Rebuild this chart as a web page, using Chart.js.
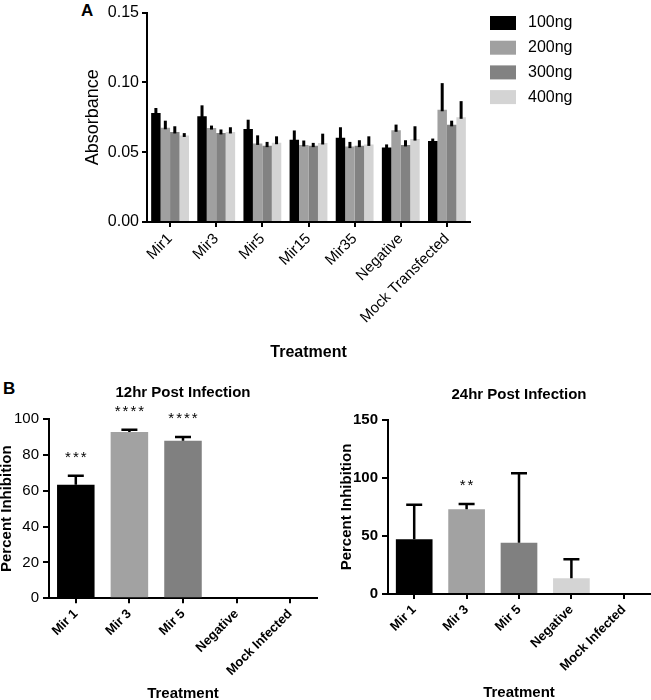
<!DOCTYPE html>
<html>
<head>
<meta charset="utf-8">
<script src="https://cdn.jsdelivr.net/npm/chart.js@4.4.1/dist/chart.umd.min.js"></script>
<style>
  body { margin: 0; background: #fff; }
  #fig { position: relative; width: 651px; height: 700px; font-family: "Liberation Sans", Arial, sans-serif; }
  canvas { position: absolute; }
  .panel { position: absolute; font-weight: bold; font-size: 17px; color: #000; }
</style>
</head>
<body>
<div id="fig">
  <div class="panel" style="left:81px;top:1px">A</div>
  <canvas id="chartA" width="651" height="366" style="left:0;top:0"></canvas>
  <div class="panel" style="left:3px;top:379px">B</div>
  <canvas id="chart12" width="330" height="330" style="left:0;top:370px"></canvas>
  <canvas id="chart24" width="321" height="330" style="left:330px;top:370px"></canvas>
</div>
<script>
// panel A - absorbance by dose
const treatmentsA = ["Mir1", "Mir3", "Mir5", "Mir15", "Mir35", "Negative", "Mock Transfected"];
const doseLabels = ["100ng", "200ng", "300ng", "400ng"];
const doseColors = ["#000000", "#a0a0a0", "#828282", "#d4d4d4"];
const abs100 = [0.0780, 0.0757, 0.0666, 0.0589, 0.0603, 0.0533, 0.0580];
const abs200 = [0.0675, 0.0673, 0.0563, 0.0552, 0.0540, 0.0657, 0.0804];
const abs300 = [0.0645, 0.0638, 0.0547, 0.0547, 0.0547, 0.0552, 0.0696];
const abs400 = [0.0620, 0.0645, 0.0568, 0.0566, 0.0556, 0.0594, 0.0750];
const sem100 = [0.0026, 0.0068, 0.0056, 0.0056, 0.0065, 0.0012, 0.0007];
const sem200 = [0.0040, 0.0007, 0.0047, 0.0021, 0.0023, 0.0030, 0.0180];
const sem300 = [0.0030, 0.0014, 0.0016, 0.0009, 0.0028, 0.0023, 0.0019];
const sem400 = [0.0006, 0.0023, 0.0035, 0.0056, 0.0047, 0.0081, 0.0105];
const absTicks = [0, 0.05, 0.10, 0.15];

// panel B - percent inhibition
const treatmentsB = ["Mir 1", "Mir 3", "Mir 5", "Negative", "Mock Infected"];
const colorsB = ["#000000", "#a2a2a2", "#808080", "#d4d4d4", "#ffffff"];
const inhib12 = [63.3, 92.7, 87.9, 0, 0];
const sem12 = [5.0, 1.3, 2.1, 0, 0];
const stars12 = ["***", "****", "****", "", ""];
const ticks12 = [0, 20, 40, 60, 80, 100];
const inhib24 = [47.2, 73.0, 44.2, 13.5, 0];
const sem24 = [29.8, 4.6, 59.8, 16.4, 0];
const stars24 = ["", "**", "", "", ""];
const ticks24 = [0, 50, 100, 150];

Chart.defaults.font.family = "'Liberation Sans', Arial, sans-serif";
Chart.defaults.color = "#000";
Chart.defaults.animation = false;

// one-sided error bars (+ optional caps and significance stars)
const errorBars = {
  id: "errorBars",
  afterDatasetsDraw(chart, args, opts) {
    const ctx = chart.ctx;
    const yScale = chart.scales.y;
    chart.data.datasets.forEach((ds, di) => {
      if (!ds.errors) return;
      const meta = chart.getDatasetMeta(di);
      meta.data.forEach((bar, i) => {
        const err = ds.errors[i];
        const top = yScale.getPixelForValue(ds.data[i] + err);
        ctx.save();
        if (err) {
          ctx.strokeStyle = "#000";
          ctx.lineWidth = opts.width;
          ctx.lineCap = opts.cap ? "butt" : "square";
          ctx.beginPath();
          ctx.moveTo(bar.x, bar.y);
          ctx.lineTo(bar.x, top);
          if (opts.cap) {
            ctx.moveTo(bar.x - opts.cap / 2, top);
            ctx.lineTo(bar.x + opts.cap / 2, top);
          }
          ctx.stroke();
        }
        if (ds.stars && ds.stars[i]) {
          ctx.fillStyle = "#000";
          ctx.font = "15px 'Liberation Sans', Arial, sans-serif";
          ctx.letterSpacing = "2px";
          ctx.textAlign = "center";
          ctx.textBaseline = "middle";
          ctx.fillText(ds.stars[i], bar.x + 1, top - 18);
        }
        ctx.restore();
      });
    });
  }
};

// legend to the right of panel A
const doseLegend = {
  id: "doseLegend",
  afterDraw(chart) {
    const ctx = chart.ctx;
    ctx.save();
    ctx.font = "16px 'Liberation Sans', Arial, sans-serif";
    ctx.textBaseline = "middle";
    chart.data.datasets.forEach((ds, i) => {
      const y = 16 + i * 24.7;
      ctx.fillStyle = ds.backgroundColor;
      ctx.fillRect(490, y, 26, 14);
      ctx.fillStyle = "#000";
      ctx.fillText(ds.label, 528, y + 7);
    });
    ctx.restore();
  }
};

function axisLines(tickLen) {
  return {
    border: { color: "#000", width: 2 },
    grid: { display: true, drawOnChartArea: false, drawTicks: true, tickLength: tickLen, color: "#000", lineWidth: 2, offset: false }
  };
}

const seriesA = [abs100, abs200, abs300, abs400];
const semsA = [sem100, sem200, sem300, sem400];

new Chart(document.getElementById("chartA"), {
  type: "bar",
  data: {
    labels: treatmentsA,
    datasets: doseLabels.map((lab, k) => ({
      label: lab,
      data: seriesA[k],
      errors: semsA[k],
      backgroundColor: doseColors[k],
      borderWidth: 0,
      barPercentage: 1.0,
      categoryPercentage: 0.82
    }))
  },
  options: {
    responsive: false,
    layout: { padding: { left: 78, right: 181, top: 0, bottom: 0 } },
    plugins: {
      legend: { display: false },
      tooltip: { enabled: false },
      errorBars: { width: 3, cap: 0 }
    },
    scales: {
      x: {
        ...axisLines(5),
        afterFit: s => { s.height = 144; },
        ticks: { autoSkip: false, minRotation: 45, maxRotation: 45, font: { size: 15 }, color: "#000" },
        title: { display: true, text: "Treatment", font: { size: 16, weight: "bold" }, padding: { top: 4, bottom: 4 } }
      },
      y: {
        ...axisLines(5),
        min: 0,
        max: 0.15,
        afterFit: s => { s.width = 69; },
        afterBuildTicks: s => { s.ticks = absTicks.map(v => ({ value: v })); },
        ticks: { padding: 3, font: { size: 16 }, color: "#000", callback: v => Number(v).toFixed(2) },
        title: { display: true, text: "Absorbance", font: { size: 18 }, padding: { top: 4, bottom: 0 } }
      }
    }
  },
  plugins: [errorBars, doseLegend]
});

function inhibitionChart(id, title, values, sems, stars, ticks, cfg) {
  return new Chart(document.getElementById(id), {
    type: "bar",
    data: {
      labels: treatmentsB,
      datasets: [{
        data: values,
        errors: sems,
        stars: stars,
        backgroundColor: colorsB,
        borderWidth: 0,
        barPercentage: 0.7,
        categoryPercentage: 1.0
      }]
    },
    options: {
      responsive: false,
      layout: { padding: { left: 0, right: cfg.right, top: 0, bottom: 0 } },
      plugins: {
        legend: { display: false },
        tooltip: { enabled: false },
        title: {
          display: true, text: title, fullSize: false, color: "#000",
          font: { size: 15, weight: "bold" }, padding: cfg.titlePad
        },
        errorBars: { width: 2.5, cap: 16 }
      },
      scales: {
        x: {
          ...axisLines(5),
          afterFit: s => { s.height = cfg.xHeight; },
          ticks: { autoSkip: false, minRotation: 45, maxRotation: 45, font: { size: 13, weight: "bold" }, color: "#000" },
          title: { display: true, text: "Treatment", font: { size: 15, weight: "bold" }, padding: { top: 0, bottom: cfg.xTitlePad } }
        },
        y: {
          ...axisLines(6),
          min: 0,
          max: ticks[ticks.length - 1],
          afterFit: s => { s.width = cfg.yWidth; },
          afterBuildTicks: s => { s.ticks = ticks.map(v => ({ value: v })); },
          ticks: { padding: 4, font: { size: 15, weight: cfg.tickWeight }, color: "#000" },
          title: { display: true, text: "Percent Inhibition", font: { size: 15, weight: "bold" }, padding: { top: cfg.yTitlePad, bottom: 0 } }
        }
      }
    },
    plugins: [errorBars]
  });
}

inhibitionChart("chart12", "12hr Post Infection", inhib12, sem12, stars12, ticks12, {
  right: 13, xHeight: 101.7, yWidth: 49, titlePad: { top: 14, bottom: 17 },
  xTitlePad: -3, yTitlePad: -2, tickWeight: "normal"
});

inhibitionChart("chart24", "24hr Post Infection", inhib24, sem24, stars24, ticks24, {
  right: 1, xHeight: 106, yWidth: 58, titlePad: { top: 16, bottom: 16 },
  xTitlePad: -2, yTitlePad: 8, tickWeight: "bold"
});
</script>
</body>
</html>
